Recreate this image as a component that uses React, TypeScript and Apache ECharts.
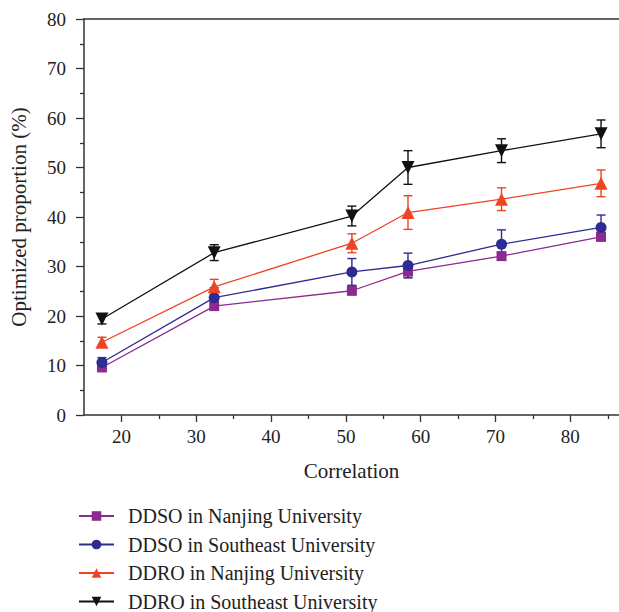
import React, { useEffect, useRef } from "react";
import * as echarts from "echarts";

const xValues = [17.4, 32.4, 50.8, 58.3, 70.8, 84.1];
const ddsoNanjing = [9.6, 22.0, 25.1, 29.0, 32.1, 36.0];
const ddsoNanjingErr = [0.7, 0.7, 0.8, 1.2, 0.7, 0.8];
const ddsoSoutheast = [10.6, 23.7, 28.9, 30.2, 34.5, 37.9];
const ddsoSoutheastErr = [1.0, 2.0, 2.7, 2.5, 2.9, 2.5];
const ddroNanjing = [14.7, 25.9, 34.7, 40.9, 43.6, 46.8];
const ddroNanjingErr = [1.0, 1.5, 1.9, 3.4, 2.3, 2.7];
const ddroSoutheast = [19.4, 32.8, 40.2, 50.0, 53.4, 56.8];
const ddroSoutheastErr = [1.0, 1.6, 2.0, 3.4, 2.4, 2.8];

const seriesNames = [
  "DDSO in Nanjing University",
  "DDSO in Southeast University",
  "DDRO in Nanjing University",
  "DDRO in Southeast University",
];
const xMajorTicks = [20, 30, 40, 50, 60, 70, 80];
const xMinorTicks = [25, 35, 45, 55, 65, 75, 85];

const FONT = "'Liberation Serif', 'Times New Roman', serif";
const TEXT = "#222";
const AXIS = "#333";

export default function App() {
  const ref = useRef<HTMLDivElement>(null);
  useEffect(() => {
    if (!ref.current) return;
    const chart = echarts.init(ref.current, undefined, { renderer: "svg" });

    const defs = [
      { name: seriesNames[0], vals: ddsoNanjing, errs: ddsoNanjingErr, color: "#8B2A8F", symbol: "rect", size: 10, rotate: 0 },
      { name: seriesNames[1], vals: ddsoSoutheast, errs: ddsoSoutheastErr, color: "#2E2B92", symbol: "circle", size: 11, rotate: 0 },
      { name: seriesNames[2], vals: ddroNanjing, errs: ddroNanjingErr, color: "#EF4424", symbol: "triangle", size: 13, rotate: 0 },
      { name: seriesNames[3], vals: ddroSoutheast, errs: ddroSoutheastErr, color: "#111111", symbol: "triangle", size: 13, rotate: 180 },
    ];

    const series: any[] = [];
    defs.forEach((d) => {
      series.push({
        type: "custom",
        name: d.name + " err",
        xAxisIndex: 0,
        yAxisIndex: 0,
        silent: true,
        z: 1,
        data: xValues.map((x, i) => [x, d.vals[i] - d.errs[i], d.vals[i] + d.errs[i]]),
        renderItem: (params: any, api: any) => {
          const x = api.value(0);
          const lo = api.coord([x, api.value(1)]);
          const hi = api.coord([x, api.value(2)]);
          const hw = 4.5;
          const style = { stroke: d.color, lineWidth: 1.4 };
          return {
            type: "group",
            children: [
              { type: "line", shape: { x1: lo[0], y1: lo[1], x2: hi[0], y2: hi[1] }, style },
              { type: "line", shape: { x1: lo[0] - hw, y1: lo[1], x2: lo[0] + hw, y2: lo[1] }, style },
              { type: "line", shape: { x1: hi[0] - hw, y1: hi[1], x2: hi[0] + hw, y2: hi[1] }, style },
            ],
          };
        },
      });
      series.push({
        type: "line",
        name: d.name,
        xAxisIndex: 0,
        yAxisIndex: 0,
        z: 3,
        data: xValues.map((x, i) => [x, d.vals[i]]),
        symbol: d.symbol,
        symbolSize: d.size,
        symbolRotate: d.rotate,
        showAllSymbol: true,
        lineStyle: { color: d.color, width: 1.3 },
        itemStyle: { color: d.color },
      });
    });

    const option: any = {
      animation: false,
      textStyle: { fontFamily: FONT, color: TEXT },
      grid: { left: 79, top: 19, right: 0, bottom: 197, containLabel: false },
      legend: {
        data: seriesNames,
        orient: "vertical",
        left: 78,
        top: 506,
        padding: 0,
        itemWidth: 35,
        itemHeight: 12,
        itemGap: 8.5,
        textStyle: { fontFamily: FONT, fontSize: 20, lineHeight: 20, color: TEXT, padding: [0, 0, 0, 9] },
      },
      xAxis: [
        {
          type: "value",
          position: "bottom",
          min: 15,
          max: 86.5,
          name: "Correlation",
          nameLocation: "middle",
          nameGap: 45,
          nameTextStyle: { fontFamily: FONT, fontSize: 21, color: TEXT },
          axisLine: { show: true, onZero: false, lineStyle: { color: AXIS, width: 1.5 } },
          axisTick: { show: true, customValues: xMajorTicks, length: 7, lineStyle: { color: AXIS, width: 1.3 } },
          axisLabel: { customValues: xMajorTicks, fontFamily: FONT, fontSize: 19, color: TEXT, margin: 12 },
          splitLine: { show: false },
        },
        {
          type: "value",
          position: "bottom",
          offset: 0,
          min: 15,
          max: 86.5,
          axisLine: { show: false },
          axisTick: { show: true, customValues: xMinorTicks, length: 4, lineStyle: { color: AXIS, width: 1.3 } },
          axisLabel: { show: false },
          splitLine: { show: false },
        },
        {
          type: "value",
          position: "top",
          min: 15,
          max: 86.5,
          axisLine: { show: true, lineStyle: { color: AXIS, width: 1.5 } },
          axisTick: { show: false },
          axisLabel: { show: false },
          splitLine: { show: false },
        },
      ],
      yAxis: [
        {
          type: "value",
          min: 0,
          max: 80,
          interval: 10,
          name: "Optimized proportion (%)",
          nameLocation: "middle",
          nameGap: 55,
          nameTextStyle: { fontFamily: FONT, fontSize: 21, color: TEXT },
          axisLine: { show: true, lineStyle: { color: AXIS, width: 1.5 } },
          axisTick: { show: true, length: 8, lineStyle: { color: AXIS, width: 1.3 } },
          minorTick: { show: true, splitNumber: 2, length: 4, lineStyle: { color: AXIS, width: 1.3 } },
          axisLabel: { fontFamily: FONT, fontSize: 19, color: TEXT, margin: 18 },
          splitLine: { show: false },
        },
      ],
      series,
    };
    chart.setOption(option);
    return () => chart.dispose();
  }, []);
  return <div ref={ref} style={{ width: 619, height: 612, position: "absolute", left: 0, top: 0 }} />;
}
